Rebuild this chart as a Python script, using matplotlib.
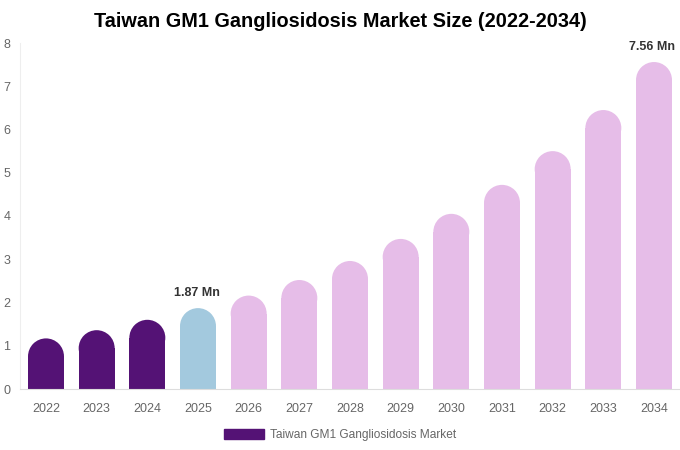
import matplotlib.pyplot as plt
from matplotlib.patches import Rectangle, Ellipse

plt.rcParams['font.family'] = ['Liberation Sans', 'DejaVu Sans']

years = ['2022', '2023', '2024', '2025', '2026', '2027', '2028',
         '2029', '2030', '2031', '2032', '2033', '2034']
values = [1.17, 1.36, 1.60, 1.87, 2.16, 2.52, 2.96, 3.47, 4.05, 4.72, 5.50, 6.45, 7.56]
colors = ['#541275'] * 3 + ['#a3c9de'] + ['#e6bde8'] * 9
labels = {3: '1.87 Mn', 12: '7.56 Mn'}

fig = plt.figure(figsize=(6.8, 4.5), dpi=100)
ax = fig.add_axes([20 / 680, 1 - 389 / 450, 660 / 680, (389 - 43) / 450])
ax.set_xlim(-0.513, 12.513)
ax.set_ylim(0, 8)

# bar width in data units and cap radius in y units
bw = 0.71
ax_h_px = 346
ax_w_px = 660
r_px = bw / 13.026 * ax_w_px / 2
r_y = r_px / ax_h_px * 8

for i, v in enumerate(values):
    body = max(v - r_y, 0)
    ax.add_patch(Rectangle((i - bw / 2, 0), bw, body, color=colors[i], lw=0))
    ax.add_patch(Ellipse((i, body), bw, 2 * r_y, color=colors[i], lw=0))
    if i in labels:
        ax.text(i - 0.03, v + 0.22, labels[i], ha='center', va='bottom',
                fontsize=9, fontweight='bold', color='#333333')

ax.set_xticks(range(len(years)))
ax.set_xticklabels(years)
ax.set_yticks(range(0, 9))
ax.tick_params(axis='both', length=0, labelsize=9, colors='#666666')
ax.tick_params(axis='x', pad=10)
ax.tick_params(axis='y', pad=7)
for s in ['top', 'right']:
    ax.spines[s].set_visible(False)
ax.spines['left'].set_color('#eeeeee')
ax.spines['bottom'].set_color('#dddddd')

fig.text(0.5, 0.953, 'Taiwan GM1 Gangliosidosis Market Size (2022-2034)',
         ha='center', va='center', fontsize=14.3, fontweight='bold', color='#000000')

handle = Rectangle((0, 0), 1, 1, color='#541275')
fig.legend([handle], ['Taiwan GM1 Gangliosidosis Market'], loc='center',
           bbox_to_anchor=(0.5, 0.033), frameon=False, fontsize=8.6,
           labelcolor='#666666', handlelength=3.35, handleheight=0.95,
           handletextpad=0.5)

fig.savefig('out.png', dpi=100)
